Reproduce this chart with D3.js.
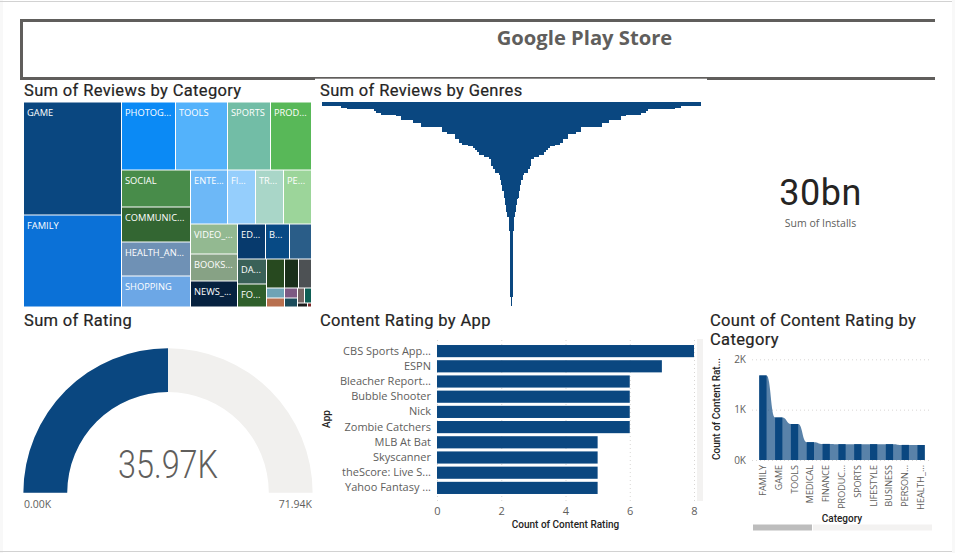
<!DOCTYPE html>
<html>
<head>
  <meta charset="utf-8">
  <title>Google Play Store</title>
  <script src="https://cdn.jsdelivr.net/npm/d3@7"></script>
  <style>
    body { margin: 0; background: #fff; }
    text { font-family: "Open Sans", sans-serif; fill: #605e5c; }
    .title { font-family: Roboto, sans-serif; font-size: 16.5px; fill: #252423; stroke: #252423; stroke-width: .2px; letter-spacing: .35px; }
    .axis-title { font-family: Roboto, sans-serif; font-size: 10px; font-weight: 500; fill: #252423; }
    .tick text { fill: #605e5c; }
  </style>
</head>
<body>
  <div id="dashboard"></div>
  <script>
    // Data
    // treemap: names as shown, the last ones have no visible label
    var categoryNames = ["GAME", "FAMILY", "PHOTOG...", "TOOLS", "SPORTS", "PROD...", "SOCIAL", "COMMUNIC...",
      "HEALTH_AN...", "SHOPPING", "ENTE...", "FI...", "TR...", "PE...", "VIDEO_...", "BOOKS...", "NEWS_...",
      "ED...", "B...", "", "DA...", "FO...", "", "", "", "", "", "", "", "", "", "", ""];
    var categoryReviews = [10864, 8827, 3680, 3480, 2902, 2734, 2477, 2408,
      2339, 2098, 1954, 1478, 1478, 1463, 1402, 1274, 1227,
      975, 845, 767, 712, 641, 522, 391, 377, 171, 162, 123, 117, 101, 101, 36, 16];
    var categoryColors = ["#0a4780", "#0b71d7", "#0b8af5", "#53b2fb", "#72bda6", "#58b858", "#488c4a", "#336632",
      "#6f91b5", "#6ca7e6", "#6db8f7", "#95cefc", "#a9d6c8", "#9cd59a", "#93b991", "#87a285", "#06213f",
      "#073a6d", "#074a85", "#2a5d88", "#3a6158", "#2f5f2b", "#27491f", "#1a2f1a", "#4d5154",
      "#6ea3b5", "#b8704f", "#7d5a83", "#1b4c5c", "#756564", "#0f5e55", "#1c1c1c", "#7d2a2a"];
    // nesting of the treemap, indexes into the arrays above
    var categoryTree = [[0, 1], [[2, 3, 4, 5], [[6, 7, 8, 9], [[10, 11, 12, 13], [[14, 15, 16],
      [[17, 18, 19], [[20, 21], [[22, 23, 24], [[25, 26], [27, 28], [[29, 30], [31, 32]]]]]]]]]]];

    // funnel, one row per genre, largest first
    var genreReviews = [570, 570, 512, 494, 412, 406, 392, 347, 332, 332, 295, 295, 272, 272, 209, 209, 209, 194,
      170, 170, 170, 157, 157, 148, 131, 116, 110, 104, 98, 98, 83, 68, 60, 60, 60, 60, 56, 56, 50, 50, 38,
      35, 35, 35, 30, 30, 30, 27, 27, 27, 23, 23, 23, 23, 20, 18, 18, 18, 15, 15, 15, 15, 12, 12, 12,
      8, 8, 8, 8, 8, 8, 8, 8,
      4, 4, 4, 4, 4, 4, 4, 4, 4, 4, 4, 4, 4, 4, 4, 4, 4, 4, 4, 4, 4, 4, 4, 4, 4, 4, 4, 4, 4, 4, 4, 4, 4, 4, 4, 4, 4,
      2, 2, 2, 2, 2];

    var ratingValue = 35970;
    var ratingMax = 71940;

    var appNames = ["CBS Sports App...", "ESPN", "Bleacher Report...", "Bubble Shooter", "Nick", "Zombie Catchers",
      "MLB At Bat", "Skyscanner", "theScore: Live S...", "Yahoo Fantasy ..."];
    var appCounts = [8, 7, 6, 6, 6, 6, 5, 5, 5, 5];

    var ribbonCategories = ["FAMILY", "GAME", "TOOLS", "MEDICAL", "FINANCE", "PRODUC...", "SPORTS", "LIFESTYLE",
      "BUSINESS", "PERSON...", "HEALTH_..."];
    var ribbonCounts = [1680, 845, 715, 355, 320, 315, 315, 315, 315, 300, 298];

    var blue = "#0a4780";

    var svg = d3.select("#dashboard").append("svg")
      .attr("width", 955)
      .attr("height", 553)
      .style("display", "block");

    // page edges
    svg.append("rect").attr("width", 3).attr("height", 553).attr("fill", "#f8f8f8");
    svg.append("rect").attr("x", 952).attr("width", 3).attr("height", 553).attr("fill", "#f8f8f8");
    svg.append("rect").attr("y", 1).attr("width", 952).attr("height", 1).attr("fill", "#d2d2d2");
    svg.append("rect").attr("y", 551).attr("width", 952).attr("height", 1).attr("fill", "#d2d2d2");

    // header box, open on the right
    svg.append("path")
      .attr("d", "M935,20.5H21.5V78.5H935")
      .attr("fill", "none")
      .attr("stroke", "#605e5c")
      .attr("stroke-width", 3);
    svg.append("rect").attr("x", 315).attr("y", 78.7).attr("width", 392).attr("height", 3).attr("fill", "#fff");
    svg.append("text")
      .attr("x", 584.5).attr("y", 45)
      .attr("text-anchor", "middle")
      .style("font-size", "20.2px").style("font-weight", 700)
      .text("Google Play Store");

    function title(x, y, s) {
      svg.append("text").attr("class", "title").attr("x", x).attr("y", y).text(s);
    }
    title(24, 96, "Sum of Reviews by Category");
    title(320, 96, "Sum of Reviews by Genres");
    title(24, 326, "Sum of Rating");
    title(320, 326, "Content Rating by App");
    title(710, 326, "Count of Content Rating by");
    title(710, 345, "Category");

    // Treemap
    var root = d3.hierarchy(categoryTree, function(d) { return Array.isArray(d) ? d : null; })
      .sum(function(d) { return Array.isArray(d) ? 0 : categoryReviews[d]; });
    d3.treemap()
      .tile(d3.treemapSliceDice)
      .size([287, 204])
      .paddingInner(1)
      .round(true)(root);

    var cell = svg.append("g")
      .attr("transform", "translate(24,102.5)")
      .selectAll("g")
      .data(root.leaves())
      .enter()
      .append("g")
        .attr("transform", function(d) { return "translate(" + d.x0 + "," + d.y0 + ")"; });
    cell.append("rect")
      .attr("width", function(d) { return d.x1 - d.x0; })
      .attr("height", function(d) { return d.y1 - d.y0; })
      .attr("fill", function(d) { return categoryColors[d.data]; });
    cell.append("text")
      .attr("x", 3).attr("y", 13)
      .style("font-size", "9.3px")
      .style("fill", "#fff")
      .text(function(d) { return categoryNames[d.data]; });

    // Funnel
    var funnelX = d3.scaleLinear().domain([-570, 570]).range([322, 700.5]);
    var funnelY = d3.scaleBand().domain(d3.range(genreReviews.length)).range([101.7, 305]);
    svg.append("g")
      .attr("shape-rendering", "crispEdges")
      .selectAll("rect")
      .data(genreReviews)
      .enter()
      .append("rect")
        .attr("x", function(d) { return funnelX(-d); })
        .attr("y", function(d, i) { return funnelY(i); })
        .attr("width", function(d) { return funnelX(d) - funnelX(-d); })
        .attr("height", funnelY.bandwidth() + 0.5)
        .attr("fill", blue);

    // KPI card
    svg.append("text")
      .attr("x", 820.5).attr("y", 205)
      .attr("text-anchor", "middle")
      .style("font-family", "Roboto, sans-serif")
      .style("font-size", "36px")
      .style("letter-spacing", "0.5px")
      .style("fill", "#252423")
      .text("30bn");
    svg.append("text")
      .attr("x", 820.5).attr("y", 226.5)
      .attr("text-anchor", "middle")
      .style("font-size", "10.5px")
      .text("Sum of Installs");

    // Gauge
    var gaugeAngle = d3.scaleLinear().domain([0, ratingMax]).range([-Math.PI / 2, Math.PI / 2]);
    var gaugeArc = d3.arc().innerRadius(100.8).outerRadius(144.6);
    var gauge = svg.append("g").attr("transform", "translate(168,492.8)");
    gauge.append("path")
      .attr("d", gaugeArc({ startAngle: gaugeAngle(0), endAngle: gaugeAngle(ratingMax) }))
      .attr("fill", "#f1f0ee");
    gauge.append("path")
      .attr("d", gaugeArc({ startAngle: gaugeAngle(0), endAngle: gaugeAngle(ratingValue) }))
      .attr("fill", blue);
    gauge.append("text")
      .attr("y", -15)
      .attr("text-anchor", "middle")
      .attr("textLength", 100)
      .attr("lengthAdjust", "spacingAndGlyphs")
      .style("font-family", "Roboto, sans-serif")
      .style("font-weight", 300)
      .style("font-size", "38.5px")
      .text("35.97K");
    svg.append("text").attr("x", 24).attr("y", 508).style("font-size", "10.5px").text("0.00K");
    svg.append("text").attr("x", 312).attr("y", 508).attr("text-anchor", "end").style("font-size", "10.5px").text("71.94K");

    // Content rating by app
    var barX = d3.scaleLinear().domain([0, 8]).range([437, 694]);
    var barY = d3.scaleBand().domain(appNames).range([343.5, 495.5]).paddingInner(0.2).paddingOuter(0.1);

    svg.append("rect").attr("x", 697).attr("y", 339).attr("width", 6).attr("height", 162).attr("fill", "#f3f2f1");

    var barAxis = svg.append("g")
      .attr("transform", "translate(0,501)")
      .call(d3.axisBottom(barX).tickValues([0, 2, 4, 6, 8]).tickSize(-162).tickPadding(6));
    barAxis.select(".domain").remove();
    barAxis.selectAll("line").attr("stroke", "#d8d6d4").attr("stroke-dasharray", "1,3");
    barAxis.selectAll("text").style("font-size", "11px");

    svg.append("g")
      .selectAll("rect")
      .data(appCounts)
      .enter()
      .append("rect")
        .attr("x", barX(0))
        .attr("y", function(d, i) { return barY(appNames[i]); })
        .attr("width", function(d) { return barX(d) - barX(0); })
        .attr("height", barY.bandwidth())
        .attr("fill", blue);

    var appAxis = svg.append("g")
      .attr("transform", "translate(437,0)")
      .call(d3.axisLeft(barY).tickSize(0).tickPadding(6));
    appAxis.select(".domain").remove();
    appAxis.selectAll("text").style("font-size", "11px");

    svg.append("text").attr("class", "axis-title")
      .attr("x", 565.5).attr("y", 528).attr("text-anchor", "middle").text("Count of Content Rating");
    svg.append("text").attr("class", "axis-title")
      .attr("transform", "translate(330,419) rotate(-90)").attr("text-anchor", "middle").text("App");

    // Ribbon chart
    var ribbonX = d3.scaleBand().domain(ribbonCategories).range([755, 929]).paddingInner(0.54).paddingOuter(0.27);
    var ribbonY = d3.scaleLinear().domain([0, 2000]).range([460, 359.3]);

    var ribbonAxis = svg.append("g")
      .attr("transform", "translate(752,0)")
      .call(d3.axisLeft(ribbonY).tickValues([0, 1000, 2000])
        .tickFormat(function(d) { return (d / 1000) + "K"; })
        .tickSize(-177).tickPadding(6));
    ribbonAxis.select(".domain").remove();
    ribbonAxis.selectAll("line").attr("stroke", "#d8d6d4").attr("stroke-dasharray", "1,3");
    ribbonAxis.selectAll("text").style("font-size", "10px");

    // every bar contributes its two top corners, the curve joins them
    var ribbonPoints = [];
    ribbonCounts.forEach(function(d, i) {
      ribbonPoints.push([ribbonX(ribbonCategories[i]), d]);
      ribbonPoints.push([ribbonX(ribbonCategories[i]) + ribbonX.bandwidth(), d]);
    });
    svg.append("path")
      .attr("d", d3.area()
        .x(function(d) { return d[0]; })
        .y0(ribbonY(0))
        .y1(function(d) { return ribbonY(d[1]); })
        .curve(d3.curveBumpX)(ribbonPoints))
      .attr("fill", blue)
      .attr("opacity", 0.68);

    svg.append("g")
      .selectAll("rect")
      .data(ribbonCounts)
      .enter()
      .append("rect")
        .attr("x", function(d, i) { return ribbonX(ribbonCategories[i]); })
        .attr("y", function(d) { return ribbonY(d); })
        .attr("width", ribbonX.bandwidth())
        .attr("height", function(d) { return ribbonY(0) - ribbonY(d); })
        .attr("fill", blue);

    svg.append("g")
      .selectAll("text")
      .data(ribbonCategories)
      .enter()
      .append("text")
        .attr("transform", function(d) {
          return "translate(" + (ribbonX(d) + ribbonX.bandwidth() / 2 + 3) + ",465) rotate(-90)";
        })
        .attr("text-anchor", "end")
        .style("font-size", "9px")
        .text(function(d) { return d; });

    svg.append("text").attr("class", "axis-title")
      .attr("x", 842).attr("y", 522).attr("text-anchor", "middle").text("Category");
    svg.append("text").attr("class", "axis-title")
      .attr("transform", "translate(720,409) rotate(-90)").attr("text-anchor", "middle").text("Count of Content Rat...");

    svg.append("rect").attr("x", 813).attr("y", 524.5).attr("width", 119).attr("height", 6).attr("fill", "#f3f2f1");
    svg.append("rect").attr("x", 753).attr("y", 524.5).attr("width", 59).attr("height", 6).attr("fill", "#bdbdbd");
  </script>
</body>
</html>
